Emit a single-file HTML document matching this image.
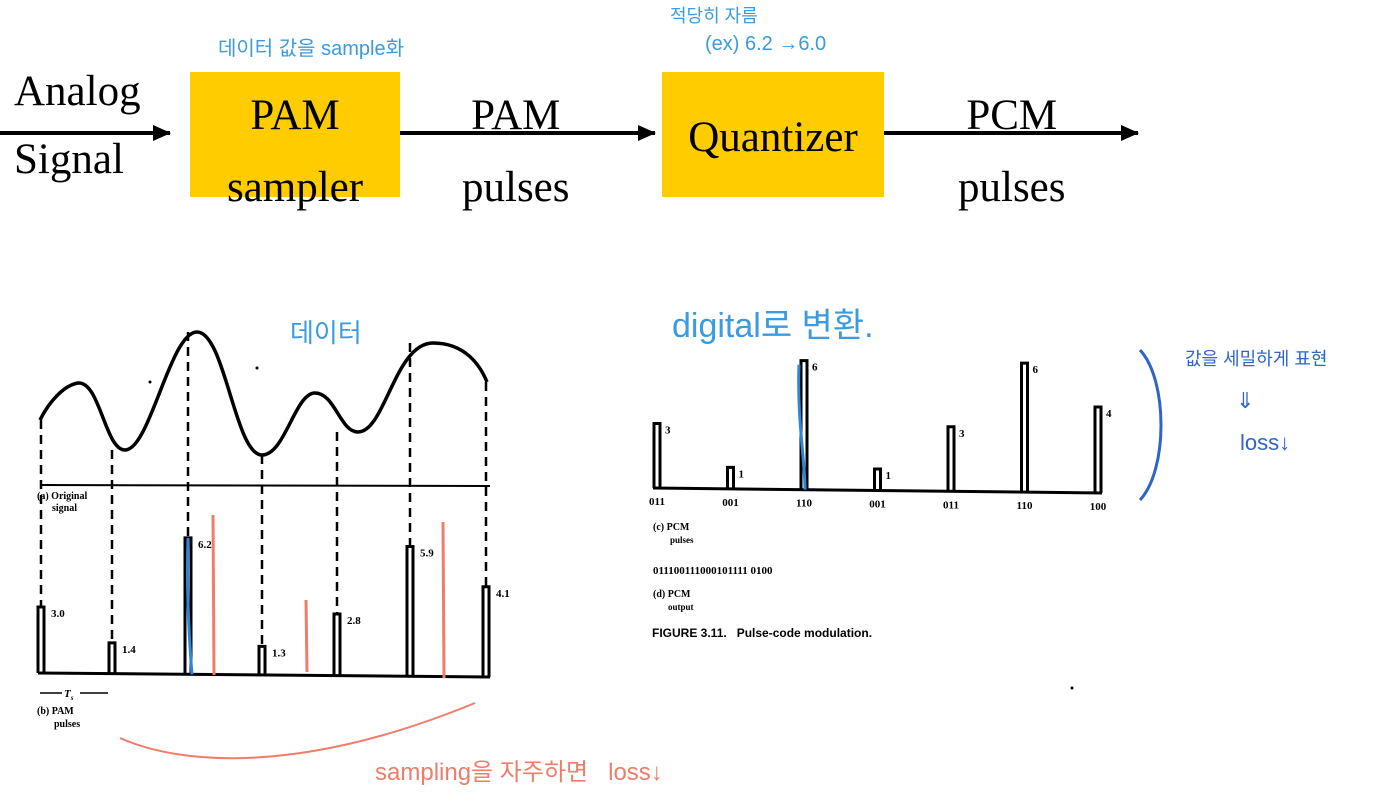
<!DOCTYPE html>
<html><head><meta charset="utf-8"><style>
html,body{margin:0;padding:0;background:#fff;}
body{width:1373px;height:812px;position:relative;overflow:hidden;font-family:"Liberation Serif","Noto Serif CJK SC",serif;}
.box{position:absolute;background:#FFCC00;}
.t{position:absolute;font-size:43px;color:#000;line-height:1;white-space:nowrap;}
.hw{position:absolute;font-family:"Liberation Sans","Noto Sans CJK KR",sans-serif;white-space:nowrap;}
</style></head><body>
<div class="t" style="left:14px;top:70px;">Analog</div>
<div class="t" style="left:14px;top:138px;">Signal</div>
<div class="box" style="left:190px;top:72px;width:210px;height:125px;"></div>
<div class="t" style="left:190px;top:80px;width:210px;text-align:center;line-height:72px;">PAM<br>sampler</div>
<div class="t" style="left:462px;top:80px;line-height:72px;text-align:center;">PAM<br>pulses</div>
<div class="box" style="left:662px;top:72px;width:222px;height:125px;"></div>
<div class="t" style="left:662px;top:116px;width:222px;text-align:center;">Quantizer</div>
<div class="t" style="left:958px;top:80px;line-height:72px;text-align:center;">PCM<br>pulses</div>

<div class="hw" style="left:218px;top:32px;font-size:20px;color:#3a9be0;">데이터 값을 sample화</div>
<div class="hw" style="left:670px;top:2px;font-size:18px;color:#3a9be0;">적당히 자름</div>
<div class="hw" style="left:705px;top:33px;font-size:20px;color:#3a9be0;">(ex) 6.2 →6.0</div>
<div class="hw" style="left:290px;top:313px;font-size:26px;color:#3a9be0;">데이터</div>
<div class="hw" style="left:672px;top:298px;font-size:34px;color:#3a9be0;">digital로 변환.</div>
<div class="hw" style="left:1185px;top:345px;font-size:18px;color:#2f64c8;">값을 세밀하게 표현</div>
<div class="hw" style="left:1236px;top:388px;font-size:22px;color:#2f64c8;">⇓</div>
<div class="hw" style="left:1240px;top:430px;font-size:22px;color:#2f64c8;">loss↓</div>
<div class="hw" style="left:375px;top:752px;font-size:24px;color:#ee7d6a;">sampling을 자주하면 &nbsp; loss↓</div>

<svg id="svg" width="1373" height="812" style="position:absolute;left:0;top:0;">
<defs><marker id="ah" markerWidth="18" markerHeight="16" refX="17" refY="8" orient="auto" markerUnits="userSpaceOnUse"><path d="M0,0 L18,8 L0,16 z" fill="#000"/></marker></defs>
<line x1="0" y1="133" x2="170" y2="133" stroke="#000" stroke-width="4" marker-end="url(#ah)"/>
<line x1="400" y1="133" x2="655" y2="133" stroke="#000" stroke-width="4" marker-end="url(#ah)"/>
<line x1="884" y1="133" x2="1138" y2="133" stroke="#000" stroke-width="4" marker-end="url(#ah)"/>
<path d="M40,420 C50,400 65,385 78,383 C100,381 105,450 125,450 C150,450 170,332 197,332 C225,332 235,455 262,455 C285,455 295,393 315,393 C335,393 340,432 358,432 C385,432 395,343 433,343 C465,343 480,365 487,382" fill="none" stroke="#000" stroke-width="3.5"/>
<line x1="40" y1="485" x2="490" y2="486" stroke="#000" stroke-width="2"/>
<text x="37" y="499" font-size="10" font-weight="bold">(a) Original</text>
<text x="52" y="511" font-size="10" font-weight="bold">signal</text>
<line x1="40" y1="693" x2="108" y2="693" stroke="#000" stroke-width="1.5"/>
<rect x="62" y="685" width="18" height="14" fill="#fff"/>
<text x="64" y="697" font-size="11" font-style="italic" font-weight="bold">T<tspan font-size="7" dy="3">s</tspan></text>
<text x="37" y="714" font-size="10" font-weight="bold">(b) PAM</text>
<text x="54" y="727" font-size="10" font-weight="bold">pulses</text>
<text x="653" y="530" font-size="10" font-weight="bold">(c) PCM</text>
<text x="670" y="543" font-size="9" font-weight="bold">pulses</text>
<text x="653" y="574" font-size="11" font-weight="bold">011100111000101111 0100</text>
<text x="653" y="597" font-size="10" font-weight="bold">(d) PCM</text>
<text x="668" y="610" font-size="9" font-weight="bold">output</text>
<text x="652" y="637" font-size="12" font-weight="bold" font-family="Liberation Sans, sans-serif">FIGURE 3.11.&#160;&#160;&#160;Pulse-code modulation.</text>
<path d="M1140,350 C1168,380 1168,470 1140,500" fill="none" stroke="#2f64c8" stroke-width="3"/>
<path d="M120,738 C180,765 300,775 475,703" fill="none" stroke="#ee7d6a" stroke-width="2"/>
<circle cx="150" cy="382" r="1.5" fill="#000"/><circle cx="257" cy="368" r="1.5" fill="#000"/><circle cx="1072" cy="688" r="1.5" fill="#000"/>
<g id="g"></g>
</svg>
<script>
const pamSampleX = [41, 112, 188, 262, 337, 410, 486];
const pamValues = [3.0, 1.4, 6.2, 1.3, 2.8, 5.9, 4.1];
const pamLabels = ["3.0", "1.4", "6.2", "1.3", "2.8", "5.9", "4.1"];
const curveTopY = [420, 450, 332, 455, 432, 343, 382];
const pcmValues = [3, 1, 6, 1, 3, 6, 4];
const pcmCodes = ["011", "001", "110", "001", "011", "110", "100"];
const pcmSlots = [0, 1, 2, 3, 4, 5, 6];

const NS = "http://www.w3.org/2000/svg";
const g = document.getElementById("g");
function mk(tag, attrs){const e=document.createElementNS(NS,tag);for(const k in attrs)e.setAttribute(k,attrs[k]);g.appendChild(e);return e;}
const pamBase = x => 673 + (x-40)*4/450;
const pamY = (v,x) => pamBase(x) - v*22;
const pcmX = i => 657 + i*73.5;
const pcmBase = x => 488 + (x-655)*5/447;
const pcmY = (v,x) => pcmBase(x) - v*21.5;

let bl = mk("line",{x1:38,y1:pamBase(38),x2:490,y2:pamBase(490),stroke:"#000","stroke-width":3});


pamValues.forEach((v,i)=>{
  const x = pamSampleX[i], top = pamY(v,x), b = pamBase(x);
  const d = mk("line",{x1:x,y1:curveTopY[i],x2:x,y2:top,stroke:"#000","stroke-width":2.5,"stroke-dasharray":"9,6"});
  
  
  const p = mk("path",{d:`M${x-3},${b} L${x-3},${top} L${x+3},${top} L${x+3},${b}`,fill:"none",stroke:"#000","stroke-width":3});
  
  
  const t = mk("text",{x:x+10,y:top+10,"font-size":11,"font-weight":"bold"});
  t.textContent = pamLabels[i];
  
  
});
let bluel = mk("path",{d:`M188,${pamY(6.2,188)} C186,600 190,650 192,${pamBase(192)}`,fill:"none",stroke:"#2f86d8","stroke-width":3});


[[213,515,675],[306,600,672],[443,522,678]].forEach(r=>{
  const l = mk("line",{x1:r[0],y1:r[1],x2:r[0]+1,y2:r[2],stroke:"#ee7d6a","stroke-width":3});
  
  
});
let pb = mk("line",{x1:653,y1:pcmBase(653),x2:1102,y2:pcmBase(1102),stroke:"#000","stroke-width":3});


pcmValues.forEach((v,i)=>{
  const x = pcmX(pcmSlots[i]), top = pcmY(v,x), b = pcmBase(x);
  const p = mk("path",{d:`M${x-3},${b} L${x-3},${top} L${x+3},${top} L${x+3},${b}`,fill:"none",stroke:"#000","stroke-width":3});
  
  
  const t = mk("text",{x:x+8,y:top+10,"font-size":11,"font-weight":"bold"});
  t.textContent = String(v);
  
  
  const c = mk("text",{x:x,y:b+17,"font-size":11,"font-weight":"bold","text-anchor":"middle"});
  c.textContent = pcmCodes[i];
  
  
});
let pblue = mk("path",{d:`M799,${pcmY(6,803)+4} C797,420 805,460 805,${pcmBase(805)}`,fill:"none",stroke:"#2f86d8","stroke-width":3});


</script>
</body></html>
